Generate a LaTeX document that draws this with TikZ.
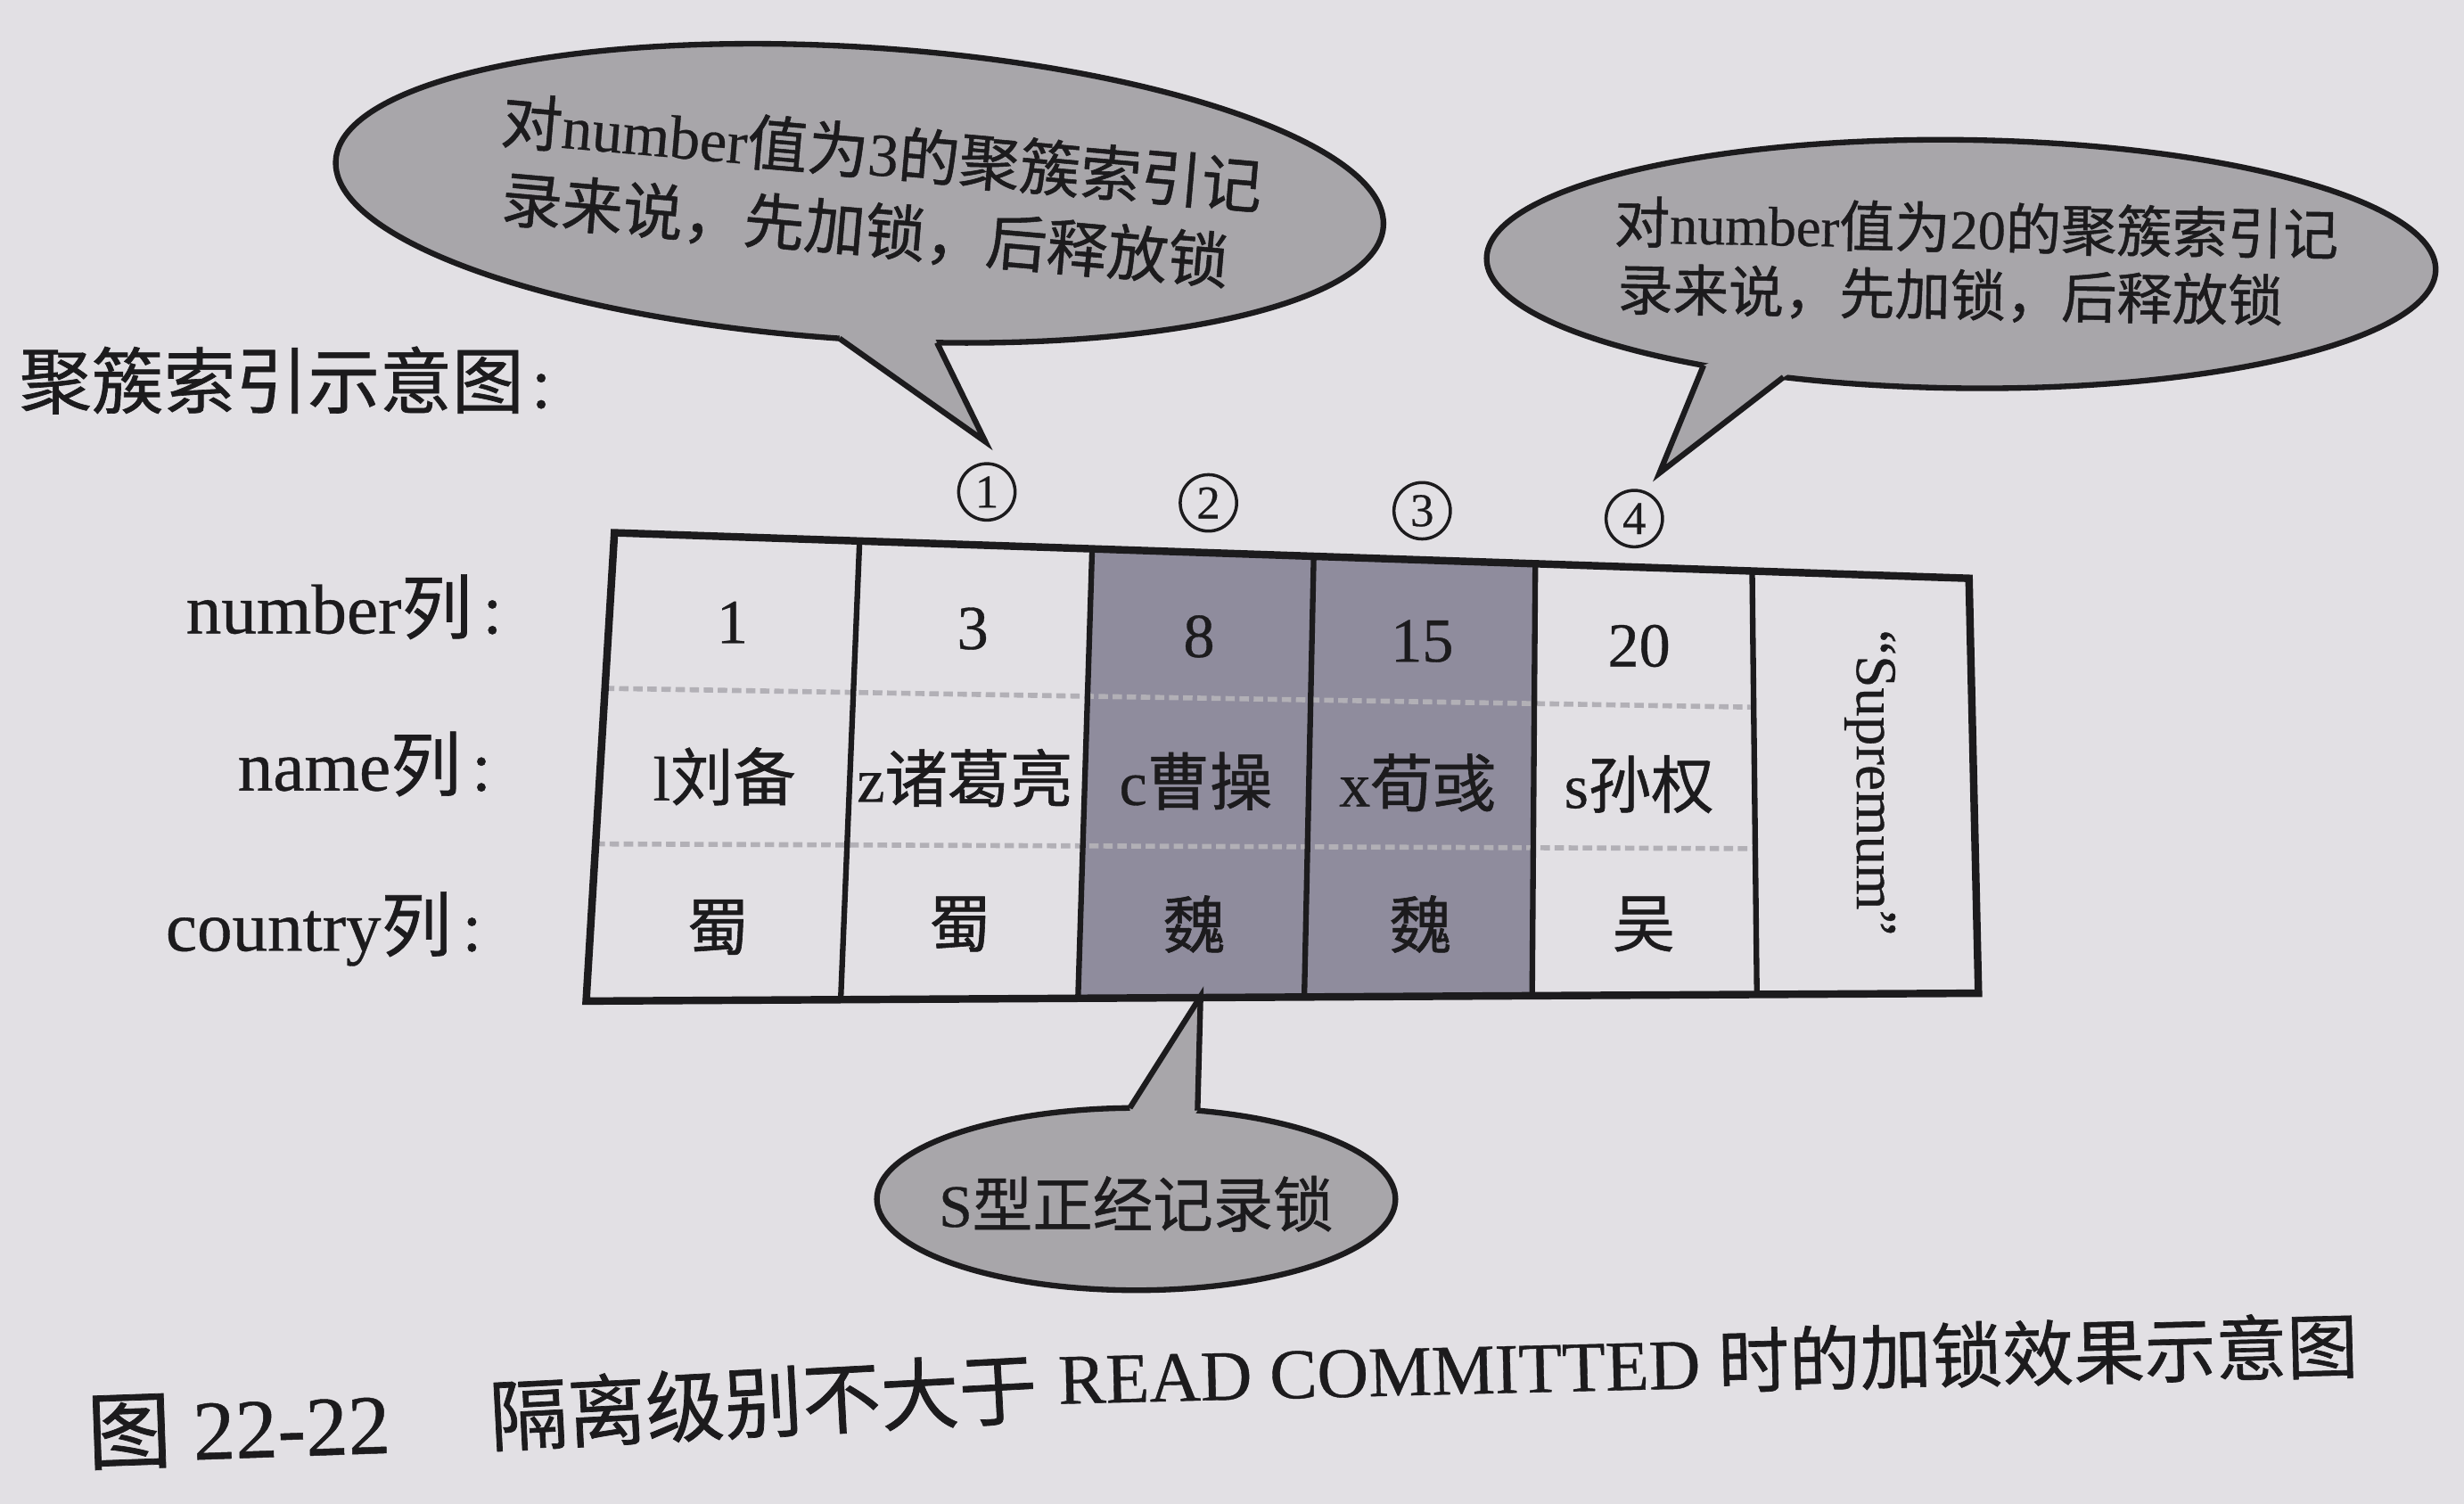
\documentclass[tikz,border=0pt]{standalone}
\usepackage{fontspec}
\setmainfont[FakeBold=0.5,AutoFakeBold=0.5]{Liberation Serif}
\newfontfamily\cjkfont[FakeBold=0.8]{Noto Sans CJK SC}
\newcommand{\zh}[1]{{\cjkfont #1}}
\usetikzlibrary{calc}

\definecolor{paper}{HTML}{E2E0E4}
\definecolor{bubblefill}{HTML}{A8A6AA}
\definecolor{lockfill}{HTML}{8F8C9D}
\definecolor{sepline}{HTML}{B2B0B6}
\definecolor{ink}{HTML}{1C1B1D}

\begin{document}
\begin{tikzpicture}[x=0.017628cm, y=-0.017628cm,
  bubble/.style={fill=bubblefill, draw=ink, line width=1.8pt},
  tailedge/.style={draw=ink, line width=1.8pt, line join=miter, miter limit=8},
  frame/.style={draw=ink, line width=2.4pt, line join=miter},
  colline/.style={draw=ink, line width=1.8pt},
  rowsep/.style={draw=sepline, line width=1.6pt, dash pattern=on 3pt off 1.5pt},
  cell/.style={inner sep=0pt, text=ink, font=\fontsize{20}{24}\selectfont},
  rowlabel/.style={inner sep=0pt, text=ink, anchor=base east, font=\fontsize{22.5}{26}\selectfont},
  callout/.style={inner sep=0pt, text=ink, anchor=west},
  marker/.style={circle, draw=ink, line width=1pt, minimum size=18pt, inner sep=0pt, text=ink, font=\fontsize{15}{18}\selectfont},
  caption/.style={inner sep=0pt, text=ink, anchor=west},
]
% page
\fill[paper] (0,0) rectangle (1568,957);
\useasboundingbox (0,0) rectangle (1568,957);

% ---------- table corners and column boundaries ----------
\coordinate (t0) at (391,339);   \coordinate (b0) at (373,637);
\coordinate (t1) at (547,344.2); \coordinate (b1) at (535,636.1);
\coordinate (t2) at (695,349.2); \coordinate (b2) at (686,635.2);
\coordinate (t3) at (836,354);   \coordinate (b3) at (830,634.4);
\coordinate (t4) at (977,358.7); \coordinate (b4) at (975,633.6);
\coordinate (t5) at (1115,363.4);\coordinate (b5) at (1118,632.8);
\coordinate (t6) at (1253,368);  \coordinate (b6) at (1259,632);

% locked records (8 and 15)
\fill[lockfill] (t2) -- (t4) -- (b4) -- (b2) -- cycle;

% row separators
\coordinate (s1a) at (385,438); \coordinate (s1b) at (1116,450);
\coordinate (s2a) at (379,537); \coordinate (s2b) at (1117,540);
\path[rowsep] (s1a) -- (s1b);
\path[rowsep] (s2a) -- (s2b);

% column lines and frame
\foreach \i in {1,...,5} { \path[colline] (t\i) -- (b\i); }
\path[frame] (t0) -- (t6) -- (b6) -- (b0) -- cycle;

% ---------- cell contents ----------
\node[cell] (n1)  at (466,396) {1};
\node[cell] (n3)  at (619,400) {3};
\node[cell] (n8)  at (763,405) {8};
\node[cell] (n15) at (905,408) {15};
\node[cell] (n20) at (1043,411) {20};

\node[cell] (m1) at (461,494) {l\zh{刘备}};
\node[cell] (m3) at (614,495) {z\zh{诸葛亮}};
\node[cell] (m8) at (761,497) {c\zh{曹操}};
\node[cell] (m15) at (902,498) {x\zh{荀彧}};
\node[cell] (m20) at (1043,499) {s\zh{孙权}};

\node[cell] (c1) at (457,590) {\zh{蜀}};
\node[cell] (c3) at (611,588) {\zh{蜀}};
\node[cell] (c8) at (760,588) {\zh{魏}};
\node[cell] (c15) at (904,588) {\zh{魏}};
\node[cell] (c20) at (1046,588) {\zh{吴}};

\node[cell, rotate=-90, font=\fontsize{18.5}{22}\selectfont] (sup) at (1190,498) {“Supremum”};

% row labels
\node[rowlabel] (lnum)  at (320,403) {number\zh{列}\hspace{0.15em}:};
\node[rowlabel] (lname) at (313,503) {name\zh{列}\hspace{0.15em}:};
\node[rowlabel] (lcty)  at (307,605) {country\zh{列}\hspace{0.15em}:};

% heading
\node[caption, font=\fontsize{23}{26}\selectfont] (head) at (12,242) {\zh{聚簇索引示意图}\hspace{0.1em}:};

% record markers
\node[marker] (k1) at (628,313) {1};
\node[marker] (k2) at (769,320) {2};
\node[marker] (k3) at (905,325) {3};
\node[marker] (k4) at (1040,330) {4};

% ---------- callout for record 3 ----------
\begin{scope}[shift={(547,123)}, rotate=-3.6]
  \path[bubble] (0,0) ellipse [x radius=334, y radius=93];
  \coordinate (lbc) at (0,0);
  \coordinate (lba) at ({334*cos(80.5)},{93*sin(80.5)});
  \coordinate (lbb) at ({334*cos(91.2)},{93*sin(91.2)});
\end{scope}
\coordinate (lbtip) at (627,281);
\fill[bubblefill] (lbc) -- (lba) -- (lbtip) -- (lbb) -- cycle;
\path[tailedge] (lba) -- (lbtip) -- (lbb);
\node[callout, rotate=-5, font=\fontsize{19.4}{22}\selectfont] (lbline1) at (319,76)
  {\zh{对}number\zh{值为}3\zh{的聚簇索引记}};
\node[callout, rotate=-5, font=\fontsize{19.4}{22}\selectfont] (lbline2) at (319,126)
  {\zh{录来说，先加锁，后释放锁}};

% ---------- callout for record 20 ----------
\begin{scope}[shift={(1248,168)}, rotate=-0.7]
  \path[bubble] (0,0) ellipse [x radius=302, y radius=79];
  \coordinate (rbc) at (0,0);
  \coordinate (rba) at ({302*cos(111.8)},{79*sin(111.8)});
  \coordinate (rbb) at ({302*cos(122.7)},{79*sin(122.7)});
\end{scope}
\coordinate (rbtip) at (1056,301);
\fill[bubblefill] (rbc) -- (rba) -- (rbtip) -- (rbb) -- cycle;
\path[tailedge] (rba) -- (rbtip) -- (rbb);
\node[callout, rotate=-1, font=\fontsize{17.7}{20}\selectfont] (rbline1) at (1027,141)
  {\zh{对}number\zh{值为}20\zh{的聚簇索引记}};
\node[callout, rotate=-1, font=\fontsize{17.7}{20}\selectfont] (rbline2) at (1029,184)
  {\zh{录来说，先加锁，后释放锁}};

% ---------- callout for the S lock ----------
\begin{scope}[shift={(723,763)}]
  \path[bubble] (0,0) ellipse [x radius=165, y radius=58];
  \coordinate (sbc) at (0,0);
  \coordinate (sba) at ({165*cos(268.6)},{58*sin(268.6)});
  \coordinate (sbb) at ({165*cos(283.7)},{58*sin(283.7)});
\end{scope}
\coordinate (sbtip) at (764,634);
\fill[bubblefill] (sbc) -- (sba) -- (sbtip) -- (sbb) -- cycle;
\path[tailedge] (sba) -- (sbtip) -- (sbb);
\node[inner sep=0pt, text=ink, font=\fontsize{19.2}{22}\selectfont] (sbtext) at (723,766) {S\zh{型正经记录锁}};

% ---------- figure caption ----------
\node[caption, rotate=2, font=\fontsize{27}{30}\selectfont] (cap1) at (55,912) {\zh{图} 22-22};
\node[caption, rotate=3, font=\fontsize{25}{28}\selectfont] (cap2) at (311,901) {\zh{隔离级别不大于}};
\node[caption, rotate=1.4, font=\fontsize{22.7}{26}\selectfont] (cap3) at (673,876) {READ COMMITTED \zh{时的加锁效果示意图}};
\end{tikzpicture}
\end{document}
